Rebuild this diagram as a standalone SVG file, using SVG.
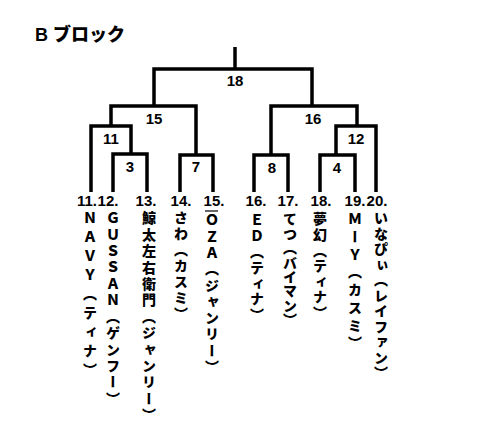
<svg xmlns="http://www.w3.org/2000/svg" width="485" height="424" viewBox="0 0 485 424">
<style>
.ln{fill:none;stroke:#000;stroke-width:3.5;stroke-linejoin:miter;stroke-linecap:butt}
.lb{font-family:"Liberation Sans","Noto Sans CJK JP",sans-serif;font-weight:bold;font-size:15px;fill:#000;text-anchor:middle}
.num{font-family:"Liberation Sans","Noto Sans CJK JP",sans-serif;font-weight:bold;font-size:15px;fill:#000;text-anchor:middle}
.nm{font-family:"Noto Sans CJK JP",sans-serif;font-weight:900;font-size:14px;fill:#000;writing-mode:vertical-rl}
.ttl{font-family:"Liberation Sans","Noto Sans CJK JP",sans-serif;font-weight:bold;font-size:18px;fill:#000}
</style>
<rect width="485" height="424" fill="#fff"/>
<text class="ttl" x="35" y="41">B<tspan dx="5" font-family="Noto Sans CJK JP" font-weight="900">ブロック</tspan></text>
<g id="connectors">
<path class="ln" d="M235 47V69"/>
<path class="ln" d="M154 106V69H312V106"/>
<path class="ln" d="M111 126V106H196V155"/>
<path class="ln" d="M91 192V126H131V154"/>
<path class="ln" d="M113 192V154H147V192"/>
<path class="ln" d="M180 192V155H213V192"/>
<path class="ln" d="M271 155V106H357V126"/>
<path class="ln" d="M254 192V155H288V192"/>
<path class="ln" d="M336 155V126H376V192"/>
<path class="ln" d="M320 192V155H355V192"/>
</g>
<g id="m18"><text class="lb" x="235" y="86">18</text></g>
<g id="m15"><text class="lb" x="154" y="124">15</text></g>
<g id="m16"><text class="lb" x="313" y="124">16</text></g>
<g id="m11"><text class="lb" x="111" y="144">11</text></g>
<g id="m12"><text class="lb" x="356" y="144">12</text></g>
<g id="m3"><text class="lb" x="130" y="172">3</text></g>
<g id="m7"><text class="lb" x="196" y="172">7</text></g>
<g id="m8"><text class="lb" x="272" y="173">8</text></g>
<g id="m4"><text class="lb" x="337" y="173">4</text></g>
<g id="p11"><text class="num" x="87" y="206">11.</text><text class="nm" x="90" y="211" style="letter-spacing:4.9px">ＮＡＶＹ（ティナ）</text></g>
<g id="p12"><text class="num" x="108" y="206">12.</text><text class="nm" x="113" y="211" style="letter-spacing:2.4px">ＧＵＳＳＡＮ（ゲンフー）</text></g>
<g id="p13"><text class="num" x="146" y="206">13.</text><text class="nm" x="149" y="211" style="letter-spacing:2.4px">鯨太左右衛門（ジャンリー）</text></g>
<g id="p14"><text class="num" x="181" y="206">14.</text><text class="nm" x="181" y="211" style="letter-spacing:2px">さわ（カスミ）</text></g>
<g id="p15"><text class="num" x="214" y="206">15.</text><line x1="205" y1="211" x2="218" y2="211" stroke="#000" stroke-width="1.2"/><text class="nm" x="212" y="213" style="letter-spacing:2.3px">ＯＺＡ（ジャンリー）</text></g>
<g id="p16"><text class="num" x="256" y="206">16.</text><text class="nm" x="257" y="213" style="letter-spacing:1.8px">ＥＤ（ティナ）</text></g>
<g id="p17"><text class="num" x="288" y="206">17.</text><text class="nm" x="290" y="212" style="letter-spacing:0.4px">てつ（バイマン）</text></g>
<g id="p18"><text class="num" x="321" y="206">18.</text><text class="nm" x="320" y="212" style="letter-spacing:1.6px">夢幻（ティナ）</text></g>
<g id="p19"><text class="num" x="355" y="206">19.</text><text class="nm" x="355" y="212" style="letter-spacing:3.7px">ＭーＹ（カスミ）</text></g>
<g id="p20"><text class="num" x="377" y="206">20.</text><text class="nm" x="381" y="211" style="letter-spacing:1.5px">いなぴぃ（レイファン）</text></g>
</svg>
